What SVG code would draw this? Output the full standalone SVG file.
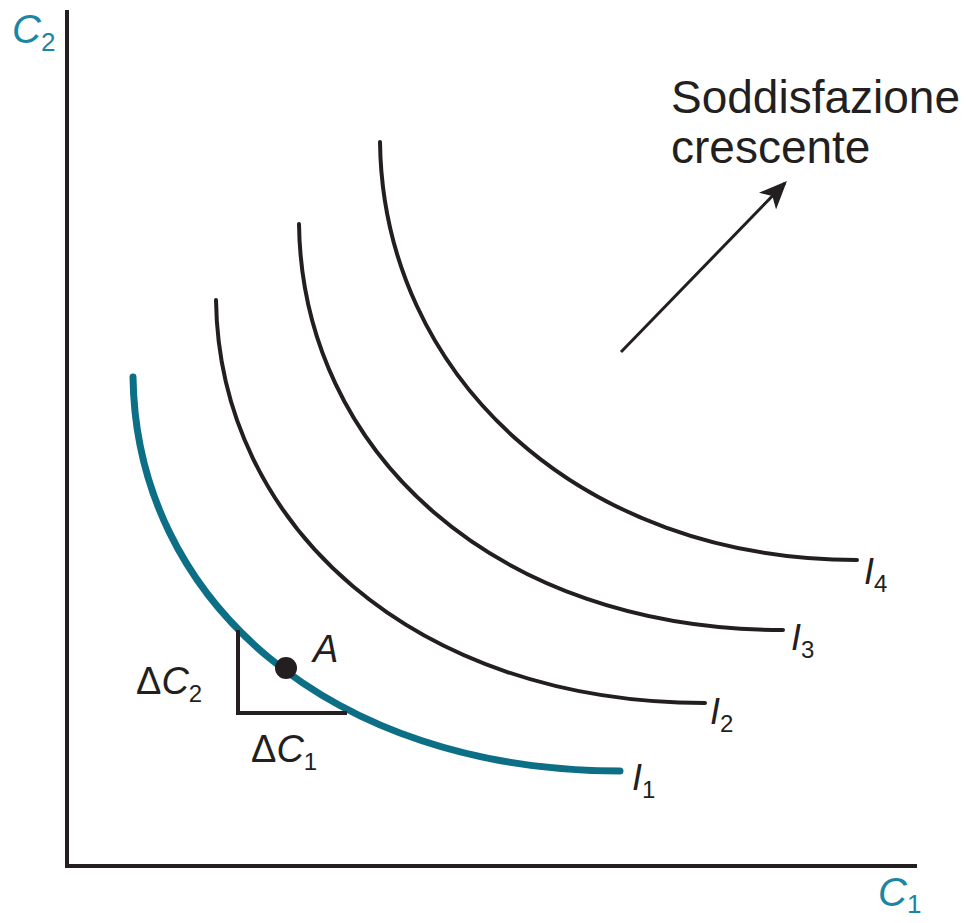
<svg xmlns="http://www.w3.org/2000/svg" width="966" height="923" viewBox="0 0 966 923">
<style>
.ax{stroke:#231f20;stroke-width:4;fill:none}
.curve{stroke:#231f20;stroke-width:4;fill:none;stroke-linecap:round}
.teal{stroke:#0d6f86;stroke-width:7;fill:none;stroke-linecap:round}
.lbl{font-family:"Liberation Sans",Arial,sans-serif;fill:#231f20}
.it{font-style:italic}
.tealtxt{fill:#1b86a3}
</style>
<defs>
<marker id="ah" viewBox="0 0 10 10" refX="9" refY="5" markerWidth="28" markerHeight="24" markerUnits="userSpaceOnUse" orient="auto" preserveAspectRatio="none">
<path d="M0,0 L10,5 L0,10 L2.5,5 Z" fill="#231f20"/>
</marker>
</defs>
<g id="axes">
<line class="ax" x1="67" y1="10" x2="67" y2="868"/>
<line class="ax" x1="65" y1="866" x2="917" y2="866"/>
<text class="lbl it tealtxt" x="12" y="43" font-size="40">C<tspan font-size="26" font-style="normal" dy="8">2</tspan></text>
<text class="lbl it tealtxt" x="878" y="906" font-size="40">C<tspan font-size="26" font-style="normal" dy="7">1</tspan></text>
</g>
<g id="connectors">
<line x1="621" y1="352" x2="785" y2="183" stroke="#231f20" stroke-width="3" marker-end="url(#ah)"/>
</g>
<g id="I1">
<path class="teal" d="M133,377 C136,600 330,771 620,771"/>
<text class="lbl it" x="632" y="790" font-size="36">I<tspan font-size="24" font-style="normal" dy="8">1</tspan></text>
</g>
<g id="I2">
<path class="curve" d="M216,300 C219,526 415,703 705,703"/>
<text class="lbl it" x="710" y="724" font-size="36">I<tspan font-size="24" font-style="normal" dy="8">2</tspan></text>
</g>
<g id="I3">
<path class="curve" d="M299,224 C302,452 495,630 783,630"/>
<text class="lbl it" x="791" y="650" font-size="36">I<tspan font-size="24" font-style="normal" dy="8">3</tspan></text>
</g>
<g id="I4">
<path class="curve" d="M380,142 C383,376 580,560 857,560"/>
<text class="lbl it" x="864" y="584" font-size="36">I<tspan font-size="24" font-style="normal" dy="8">4</tspan></text>
</g>
<g id="triangle">
<path class="ax" d="M238,630 L238,713 L347,713"/>
<text class="lbl" x="136" y="694" font-size="38">Δ<tspan class="it">C</tspan><tspan font-size="24" dy="8">2</tspan></text>
<text class="lbl" x="251" y="762" font-size="38">Δ<tspan class="it">C</tspan><tspan font-size="24" dy="8">1</tspan></text>
</g>
<g id="pointA">
<circle cx="286" cy="668" r="11" fill="#231f20"/>
<text class="lbl it" x="313" y="662" font-size="38">A</text>
</g>
<g id="label">
<text class="lbl" x="671" y="113" font-size="46">Soddisfazione</text>
<text class="lbl" x="671" y="163" font-size="46">crescente</text>
</g>
</svg>
